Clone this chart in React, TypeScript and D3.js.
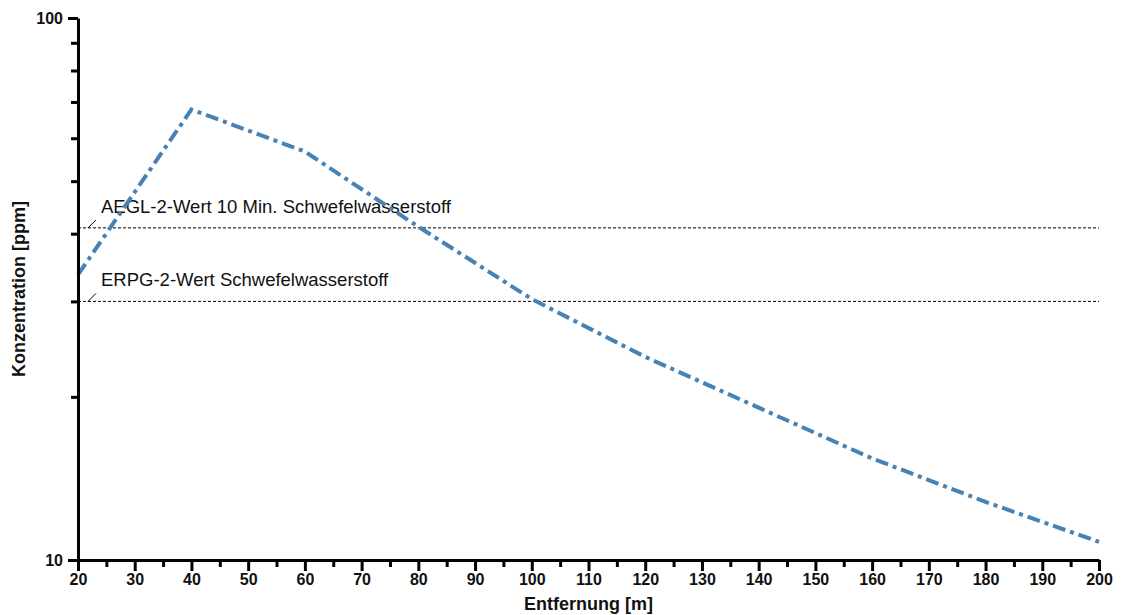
import * as d3 from "d3";
import { useEffect, useRef } from "react";

// distance [m] and concentration [ppm]
const distances = [20, 40, 60, 80, 100, 120, 140, 160, 180, 200];
const concentration = [33.6, 67.8, 56.7, 41.2, 30.3, 23.7, 19.1, 15.4, 12.8, 10.8];

const limitNames = ["AEGL-2-Wert 10 Min. Schwefelwasserstoff", "ERPG-2-Wert Schwefelwasserstoff"];
const limitValues = [41, 30];

const xTicks = [20, 30, 40, 50, 60, 70, 80, 90, 100, 110, 120, 130, 140, 150, 160, 170, 180, 190, 200];
const xMinorTicks = [25, 35, 45, 55, 65, 75, 85, 95, 105, 115, 125, 135, 145, 155, 165, 175, 185, 195];
const yTicks = [10, 100];
const yMinorTicks = [20, 30, 40, 50, 60, 70, 80, 90];

const width = 1122;
const height = 615;
const font = "Arial, 'Liberation Sans', sans-serif";

export default function App() {
  const ref = useRef<SVGSVGElement>(null);

  useEffect(() => {
    const svg = d3.select(ref.current);
    svg.selectAll("*").remove();

    const marginLeft = 78;
    const marginRight = 23;
    const marginTop = 18;
    const marginBottom = 55;

    const x = d3.scaleLinear().domain([20, 200]).range([marginLeft, width - marginRight]);
    const y = d3.scaleLog().domain([10, 100]).range([height - marginBottom, marginTop]);

    // limit lines with labels
    const limits = limitNames.map((name, i) => ({ name, value: limitValues[i] }));
    const lg = svg.append("g");
    limits.forEach(l => {
      const yy = y(l.value);
      lg.append("line")
        .attr("x1", x(20)).attr("x2", x(200))
        .attr("y1", yy).attr("y2", yy)
        .attr("stroke", "#000").attr("stroke-width", 1)
        .attr("stroke-dasharray", "3,2");
      lg.append("line")
        .attr("x1", x(20) + 10).attr("x2", x(20) + 18)
        .attr("y1", yy).attr("y2", yy - 8)
        .attr("stroke", "#000").attr("stroke-width", 1);
      lg.append("text")
        .attr("x", x(20) + 23).attr("y", yy - 15)
        .attr("font-family", font).attr("font-size", 18.5)
        .attr("fill", "#111")
        .text(l.name);
    });

    // concentration line
    const line = d3.line<number>()
      .x((d, i) => x(distances[i]))
      .y(d => y(d));
    svg.append("path")
      .datum(concentration)
      .attr("d", line)
      .attr("fill", "none")
      .attr("stroke", "#4682b4")
      .attr("stroke-width", 4)
      .attr("stroke-dasharray", "13,5,4,5");

    // x axis
    const gx = svg.append("g")
      .attr("transform", `translate(0,${height - marginBottom})`);
    gx.call(d3.axisBottom(x).tickValues(xMinorTicks).tickSize(7).tickFormat(() => ""))
      .call(g => g.selectAll(".domain").remove());
    gx.append("g")
      .call(d3.axisBottom(x).tickValues(xTicks).tickSize(11).tickSizeOuter(0).tickPadding(3).tickFormat(d3.format("d")))
      .call(g => g.select(".domain").attr("stroke-width", 3))
      .call(g => g.selectAll("text").attr("font-size", 16).attr("font-weight", "bold").attr("font-family", font).attr("fill", "#111"));
    gx.selectAll(".tick line").attr("stroke-width", 3);

    // y axis
    const gy = svg.append("g")
      .attr("transform", `translate(${marginLeft},0)`);
    gy.call(d3.axisLeft(y).tickValues(yMinorTicks).tickSize(7).tickFormat(() => ""))
      .call(g => g.selectAll(".domain").remove());
    gy.append("g")
      .call(d3.axisLeft(y).tickValues(yTicks).tickSize(10).tickSizeOuter(0).tickPadding(5).tickFormat(d3.format("d")))
      .call(g => g.select(".domain").attr("stroke-width", 3))
      .call(g => g.selectAll("text").attr("font-size", 16).attr("font-weight", "bold").attr("font-family", font).attr("fill", "#111"));
    gy.selectAll(".tick line").attr("stroke-width", 3);

    // axis titles
    svg.append("text")
      .attr("x", (marginLeft + width - marginRight) / 2)
      .attr("y", height - 5)
      .attr("text-anchor", "middle")
      .attr("font-family", font).attr("font-size", 18).attr("font-weight", "bold")
      .attr("fill", "#111")
      .text("Entfernung [m]");
    svg.append("text")
      .attr("transform", `translate(25,${(marginTop + height - marginBottom) / 2}) rotate(-90)`)
      .attr("text-anchor", "middle")
      .attr("font-family", font).attr("font-size", 18).attr("font-weight", "bold")
      .attr("fill", "#111")
      .text("Konzentration [ppm]");
  }, []);

  return (
    <svg ref={ref} width={width} height={height}
      style={{ position: "absolute", left: 0, top: 0, background: "#fff" }} />
  );
}
